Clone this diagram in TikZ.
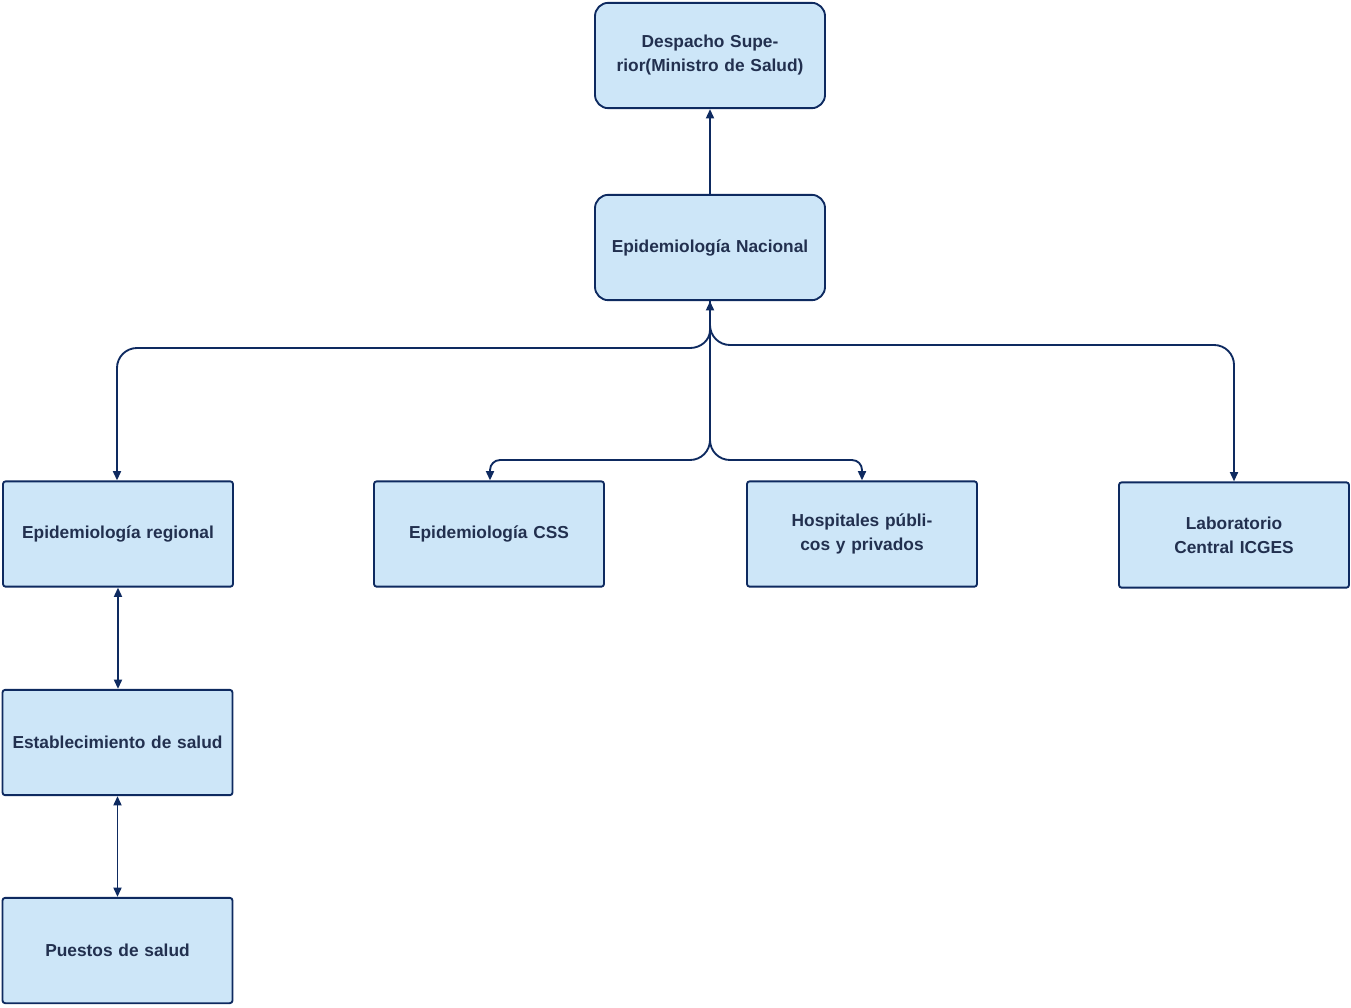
\documentclass[tikz,border=0pt]{standalone}
\usepackage{fontspec}
\setmainfont{Liberation Sans}
\usetikzlibrary{arrows.meta}
\definecolor{bx}{HTML}{CDE6F8}
\definecolor{ln}{HTML}{0E2A60}
\definecolor{tx}{HTML}{22304F}
\begin{document}
\begin{tikzpicture}[x=0.75pt,y=-0.75pt,
  box/.style={draw=ln,line width=1.4pt,fill=bx,minimum width=172.5pt,minimum height=79pt,align=center,text width=160pt,font=\bfseries\fontsize{13}{18}\selectfont,text=tx,inner sep=0pt},
  rbox/.style={box,rounded corners=10pt},
  sbox/.style={box,rounded corners=2pt},
  con/.style={draw=ln,line width=1.4pt,-{Triangle[length=7pt,width=6pt]}},
  dcon/.style={draw=ln,line width=1.4pt,{Triangle[length=7pt,width=6pt]}-{Triangle[length=7pt,width=6pt]}}]
\useasboundingbox (0,0) rectangle (1351,1007);
\node[rbox] (desp) at (710,55.5) {Despacho Superior(Ministro de Salud)};
\node[rbox] (nac) at (710,247.5) {Epidemiología Nacional};
\node[sbox] (reg) at (118,534) {Epidemiología regional};
\node[sbox] (css) at (489,534) {Epidemiología CSS};
\node[sbox] (hos) at (862,534) {Hospitales públicos y privados};
\node[sbox] (lab) at (1234,535) {Laboratorio Central ICGES};
\node[sbox] (est) at (117.5,742.5) {Establecimiento de salud};
\node[sbox] (pue) at (117.5,950.5) {Puestos de salud};
\draw[con] (nac.north) -- (desp.south);
\coordinate (j) at (710,330);
\draw[con] (j) -- (nac.south);
\draw[con] (nac.south) -- (710,330) to[out=-90,in=0] (690,348) -- (137,348) to[out=180,in=90] (117,368) -- (reg.north-|117,0);
\draw[con] (710,325) to[out=-90,in=180] (730,345) -- (1214,345) to[out=0,in=90] (1234,365) -- (lab.north);
\draw[con] (710,330) -- (710,440) to[out=-90,in=0] (690,460) -- (500,460) to[out=180,in=90] (490,470) -- (css.north-|490,0);
\draw[con] (710,440) to[out=-90,in=180] (730,460) -- (852,460) to[out=0,in=90] (862,470) -- (hos.north);
\draw[dcon] (reg.south-|118,0) -- (est.north-|118,0);
\draw[dcon] (est.south) -- (pue.north);
\end{tikzpicture}
\end{document}
